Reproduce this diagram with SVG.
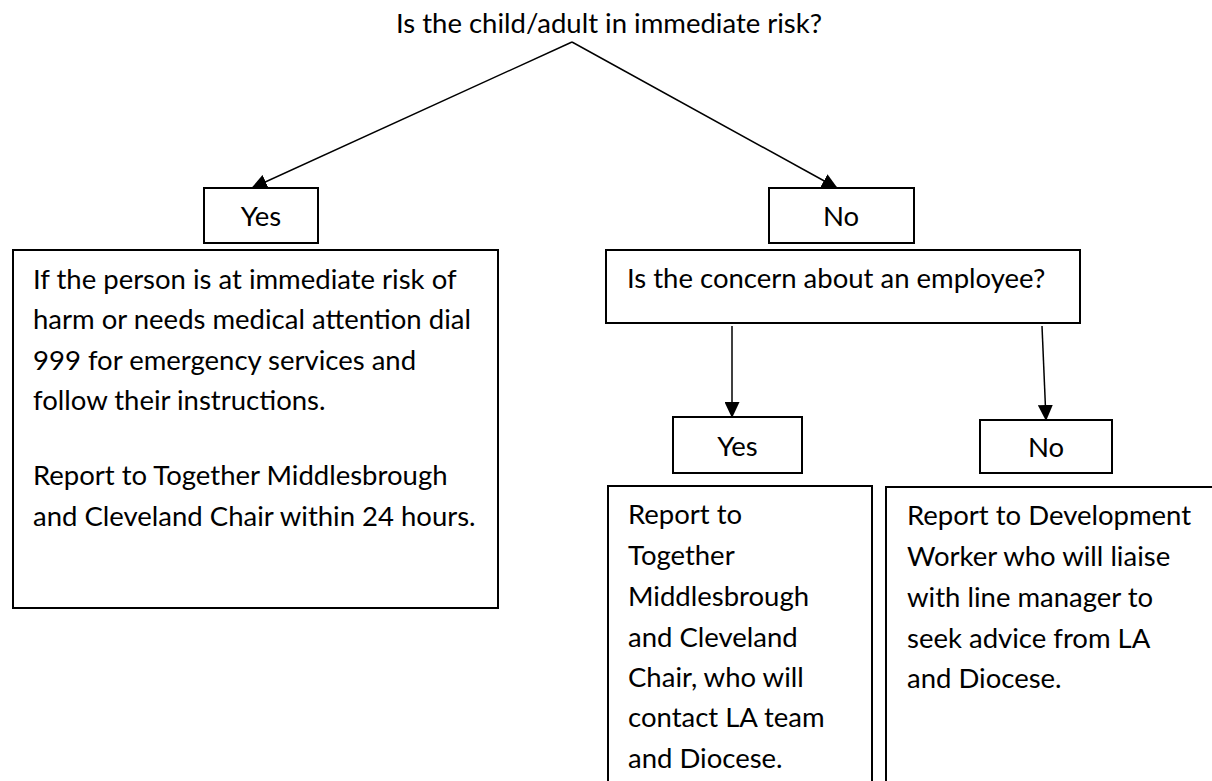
<svg xmlns="http://www.w3.org/2000/svg" width="1212" height="781" viewBox="0 0 1212 781">
<style>
text{font-family:Lato,"Open Sans","Liberation Sans",sans-serif;fill:#000;font-size:27.5px}
.box{fill:#fff;stroke:#000;stroke-width:2}
.c{fill:none;stroke:#000;stroke-width:1.5}
</style>
<defs>
<marker id="ah" markerUnits="userSpaceOnUse" markerWidth="16" markerHeight="15" refX="15" refY="7.5" orient="auto">
<path d="M0,0 L16,7.5 L0,15 Z" fill="#000"/>
</marker>
</defs>
<rect width="1212" height="781" fill="#fff"/>
<g id="title"><text x="609" y="33" text-anchor="middle">Is the child/adult in immediate risk?</text></g>
<g id="connectors">
<path class="c" d="M572,42 L252,188" marker-end="url(#ah)"/>
<path class="c" d="M572,42 L837,188" marker-end="url(#ah)"/>
<path class="c" d="M732,326 L732,417" marker-end="url(#ah)"/>
<path class="c" d="M1042,326 L1046,420" marker-end="url(#ah)"/>
</g>
<g id="yes1"><rect class="box" x="204" y="188" width="114" height="55"/><text x="261" y="226" text-anchor="middle">Yes</text></g>
<g id="no1"><rect class="box" x="769" y="188" width="145" height="55"/><text x="841" y="226" text-anchor="middle">No</text></g>
<g id="action1"><rect class="box" x="13" y="250" width="485" height="358"/>
<text x="33" y="289">If the person is at immediate risk of</text>
<text x="33" y="329">harm or needs medical attention dial</text>
<text x="33" y="370">999 for emergency services and</text>
<text x="33" y="410">follow their instructions.</text>
<text x="33" y="485">Report to Together Middlesbrough</text>
<text x="33" y="526">and Cleveland Chair within 24 hours.</text>
</g>
<g id="employee"><rect class="box" x="606" y="250" width="474" height="73"/><text x="627" y="288">Is the concern about an employee?</text></g>
<g id="yes2"><rect class="box" x="673" y="417" width="129" height="56"/><text x="737.5" y="456" text-anchor="middle">Yes</text></g>
<g id="no2"><rect class="box" x="980" y="420" width="132" height="53"/><text x="1046" y="457" text-anchor="middle">No</text></g>
<g id="action2"><rect class="box" x="608" y="486" width="264" height="310"/>
<text x="628" y="524">Report to</text>
<text x="628" y="565">Together</text>
<text x="628" y="606">Middlesbrough</text>
<text x="628" y="647">and Cleveland</text>
<text x="628" y="687">Chair, who will</text>
<text x="628" y="727">contact LA team</text>
<text x="628" y="768">and Diocese.</text>
</g>
<g id="action3"><rect class="box" x="886" y="487" width="340" height="310"/>
<text x="907" y="525">Report to Development</text>
<text x="907" y="566">Worker who will liaise</text>
<text x="907" y="607">with line manager to</text>
<text x="907" y="648">seek advice from LA</text>
<text x="907" y="688">and Diocese.</text>
</g>
</svg>
